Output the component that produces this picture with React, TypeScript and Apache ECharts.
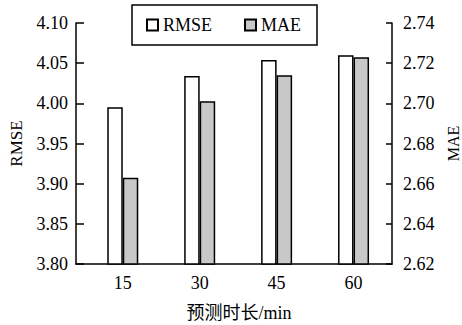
import React, { useEffect, useRef } from "react";
import * as echarts from "echarts";

const categories = [15, 30, 45, 60];
const rmseValues = [3.995, 4.034, 4.054, 4.06];
const maeValues = [2.663, 2.701, 2.714, 2.723];
const xAxisName = "预测时长/min";

const FONT = "Liberation Serif";
const NAME_FONT = "Liberation Serif, Noto Sans CJK SC, serif";

export default function App() {
  const ref = useRef<HTMLDivElement>(null);
  useEffect(() => {
    if (!ref.current) return;
    const chart = echarts.init(ref.current, undefined, { renderer: "svg" });
    chart.setOption({
      animation: false,
      backgroundColor: "#fff",
      textStyle: { fontFamily: FONT, color: "#000" },
      grid: { left: 76, right: 70, top: 23, bottom: 61, containLabel: false, outerBoundsMode: "none" },
      legend: {
        left: 132,
        top: 5,
        orient: "horizontal",
        borderColor: "#000",
        borderWidth: 1.5,
        padding: [11, 16, 11, 14],
        itemWidth: 11,
        itemHeight: 11,
        itemGap: 32,
        icon: "rect",
        textStyle: { fontFamily: FONT, fontSize: 18, color: "#000" },
        data: ["RMSE", "MAE"],
      },
      xAxis: {
        type: "value",
        min: 5.88,
        max: 67.5,
        name: xAxisName,
        nameLocation: "middle",
        nameGap: 40,
        nameTextStyle: { fontFamily: NAME_FONT, fontSize: 18, color: "#000", padding: [0, 0, 0, 10] },
        axisLine: { show: true, lineStyle: { color: "#000", width: 1.5 } },
        axisTick: { show: false },
        splitLine: { show: false },
        axisLabel: {
          fontFamily: FONT,
          fontSize: 18,
          color: "#000",
          margin: 10,
          customValues: categories,
        },
      },
      yAxis: [
        {
          type: "value",
          position: "left",
          min: 3.8,
          max: 4.1,
          interval: 0.05,
          name: "RMSE",
          nameLocation: "middle",
          nameRotate: 90,
          nameGap: 51,
          nameTextStyle: { fontFamily: FONT, fontSize: 17, color: "#000" },
          axisLine: { show: true, lineStyle: { color: "#000", width: 1.5 } },
          axisTick: { show: true, inside: true, length: 8, lineStyle: { color: "#000", width: 1.5 } },
          axisLabel: {
            fontFamily: FONT,
            fontSize: 18,
            color: "#000",
            margin: 8,
            formatter: (v: number) => v.toFixed(2),
          },
          splitLine: { show: false },
        },
        {
          type: "value",
          position: "right",
          min: 2.62,
          max: 2.74,
          interval: 0.02,
          name: "MAE",
          nameLocation: "middle",
          nameRotate: 90,
          nameGap: 53,
          nameTextStyle: { fontFamily: FONT, fontSize: 16, color: "#000" },
          axisLine: { show: true, lineStyle: { color: "#000", width: 1.5 } },
          axisTick: { show: true, inside: true, length: 6, lineStyle: { color: "#000", width: 1.5 } },
          axisLabel: {
            fontFamily: FONT,
            fontSize: 18,
            color: "#000",
            margin: 11,
            formatter: (v: number) => v.toFixed(2),
          },
          splitLine: { show: false },
        },
      ],
      series: [
        {
          name: "RMSE",
          type: "bar",
          yAxisIndex: 0,
          data: categories.map((c, i) => [c, rmseValues[i]]),
          barWidth: 15.5,
          barGap: "0%",
          itemStyle: { color: "#fff", borderColor: "#000", borderWidth: 1.5 },
        },
        {
          name: "MAE",
          type: "bar",
          yAxisIndex: 1,
          data: categories.map((c, i) => [c, maeValues[i]]),
          barWidth: 15.5,
          barGap: "0%",
          itemStyle: { color: "#c8c8c8", borderColor: "#000", borderWidth: 1.5 },
        },
      ],
    });
    return () => chart.dispose();
  }, []);
  return (
    <div
      ref={ref}
      style={{ position: "fixed", left: 0, top: 0, width: 462, height: 325 }}
    />
  );
}
